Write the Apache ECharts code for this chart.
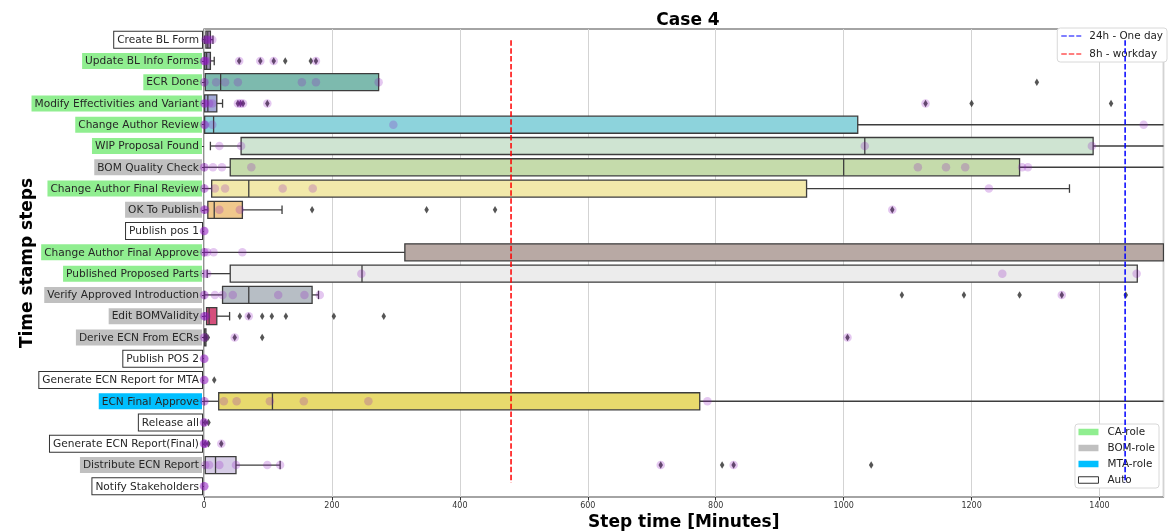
<!DOCTYPE html>
<html>
<head>
<meta charset="utf-8">
<script src="https://cdn.jsdelivr.net/npm/echarts@6/dist/echarts.min.js"></script>
<style>
  html, body { margin: 0; padding: 0; background: #fff; }
  #chart { width: 1169px; height: 532px; }
</style>
</head>
<body>
<div id="chart"></div>
<script>
// Process steps, top to bottom
const steps = [
  'Create BL Form', 'Update BL Info Forms', 'ECR Done', 'Modify Effectivities and Variant',
  'Change Author Review', 'WIP Proposal Found', 'BOM Quality Check', 'Change Author Final Review',
  'OK To Publish', 'Publish pos 1', 'Change Author Final Approve', 'Published Proposed Parts',
  'Verify Approved Introduction', 'Edit BOMValidity', 'Derive ECN From ECRs', 'Publish POS 2',
  'Generate ECN Report for MTA', 'ECN Final Approve', 'Release all', 'Generate ECN Report(Final)',
  'Distribute ECN Report', 'Notify Stakeholders'
];

// Who performs each step
const roles = [
  'auto', 'ca', 'ca', 'ca', 'ca', 'ca', 'bom', 'ca', 'bom', 'auto', 'ca', 'ca',
  'bom', 'bom', 'bom', 'auto', 'auto', 'mta', 'auto', 'auto', 'bom', 'auto'
];

// Box fill per step
const boxColors = [
  '#b48cc8', '#9a8fb5', '#7dbaae', '#a3a9d6', '#8dd3dc', '#cfe4d2', '#c5dbab', '#f2e9aa',
  '#f0c88c', '#cccccc', '#b8a9a4', '#ececec', '#b7bec5', '#d5507c', '#b0b0b0', '#cccccc',
  '#cccccc', '#e8da6d', '#cccccc', '#cccccc', '#d6cce6', '#cccccc'
];

// Five-number summaries in minutes: [lower whisker, Q1, median, Q3, upper whisker]
const boxStats = [
  [1, 3, 6, 10, 14],
  [0, 1, 4, 10, 16],
  [0, 2, 26, 273, 273],
  [0, 1, 6, 20, 29],
  [0, 1, 15, 1022, 1800],
  [10, 58, 1033, 1390, 1800],
  [0, 41, 1000, 1275, 1800],
  [0, 12, 70, 942, 1353],
  [0, 6, 16, 60, 122],
  null,
  [0, 314, 1560, 1800, 2000],
  [5, 41, 247, 1459, 1459],
  [1, 29, 70, 169, 179],
  [0, 4, 8, 20, 40],
  [0, 0, 1, 3, 4],
  null,
  null,
  [0, 23, 107, 775, 1800],
  null,
  null,
  [2, 2, 18, 50, 119],
  null
];

// Outlier step times (minutes)
const outliers = [
  [],
  [55, 88, 109, 127, 167, 175],
  [1302],
  [53, 57, 61, 99, 1128, 1200, 1418],
  [], [], [], [],
  [169, 348, 455, 1076],
  [], [], [],
  [1091, 1188, 1275, 1341, 1441],
  [56, 70, 91, 106, 128, 203, 281],
  [2, 6, 48, 91, 1006],
  [],
  [16],
  [],
  [2, 7],
  [2, 7, 27],
  [714, 810, 828, 1043],
  []
];

// Individual observations (minutes)
const observations = [
  [2, 4, 6, 9, 13],
  [0, 0, 1, 2, 5, 55, 88, 109, 175],
  [0, 1, 19, 33, 53, 153, 175, 273],
  [0, 1, 2, 8, 13, 53, 57, 61, 99, 1128],
  [0, 1, 2, 13, 296, 1469],
  [24, 58, 1033, 1388],
  [0, 1, 14, 28, 74, 1116, 1160, 1190, 1279, 1288],
  [0, 1, 17, 33, 123, 170, 1227],
  [0, 1, 2, 24, 56, 1076],
  [0, 0, 1],
  [0, 1, 5, 15, 60],
  [0, 5, 246, 1248, 1458],
  [0, 1, 17, 29, 45, 116, 157, 181, 1341],
  [0, 1, 2, 4, 70],
  [0, 1, 48, 1006],
  [0, 0, 1],
  [0, 0, 1],
  [0, 1, 31, 51, 103, 156, 257, 787],
  [0, 0, 1],
  [0, 0, 1, 2, 27],
  [2, 8, 24, 50, 99, 119, 714, 828],
  [0, 0, 1]
];

// Reference durations (minutes)
const oneDay = 1440;
const workday = 480;

// Axis range
const xMax = 1500;
const xStep = 200;

const FONT = 'DejaVu Sans';
const DAY_COLOR = '#0000ff';
const WORKDAY_COLOR = '#ff0000';

const roleStyle = {
  ca:   { backgroundColor: '#90ee90' },
  bom:  { backgroundColor: '#c0c0c0' },
  mta:  { backgroundColor: '#00bfff' },
  auto: { backgroundColor: '#ffffff', borderColor: '#333', borderWidth: 1 }
};
const rich = {};
Object.keys(roleStyle).forEach(k => {
  rich[k] = Object.assign({
    fontFamily: FONT, fontSize: 10.6, color: '#262626',
    lineHeight: 13, padding: [3, 3, 2, 3]
  }, roleStyle[k]);
});

const boxData = [];
boxStats.forEach((s, i) => { if (s) boxData.push([i].concat(s)); });
const obsData = [];
observations.forEach((arr, i) => arr.forEach(v => obsData.push([v, i])));
const outData = [];
outliers.forEach((arr, i) => arr.forEach(v => outData.push([v, i])));

function renderBox(params, api) {
  const row = api.value(0);
  const cs = params.coordSys;
  const left = cs.x, right = cs.x + cs.width;
  const px = v => Math.min(Math.max(api.coord([v, row])[0], left), right);
  const yc = api.coord([0, row])[1];
  const band = api.size([0, 1])[1];
  const h = band * 0.8;
  const lo = px(api.value(1)), q1 = px(api.value(2)), med = px(api.value(3)),
        q3 = px(api.value(4)), hi = px(api.value(5));
  const stroke = { stroke: '#3d3d3d', lineWidth: 1.3, fill: null };
  const ch = [];
  ch.push({ type: 'line', shape: { x1: lo, y1: yc, x2: q1, y2: yc }, style: stroke });
  ch.push({ type: 'line', shape: { x1: q3, y1: yc, x2: hi, y2: yc }, style: stroke });
  if (lo < right) ch.push({ type: 'line', shape: { x1: lo, y1: yc - h / 4, x2: lo, y2: yc + h / 4 }, style: stroke });
  if (hi < right) ch.push({ type: 'line', shape: { x1: hi, y1: yc - h / 4, x2: hi, y2: yc + h / 4 }, style: stroke });
  ch.push({ type: 'rect', shape: { x: q1, y: yc - h / 2, width: Math.max(q3 - q1, 0.5), height: h },
            style: { fill: boxColors[row], stroke: '#3d3d3d', lineWidth: 1.3 } });
  if (med < right) ch.push({ type: 'line', shape: { x1: med, y1: yc - h / 2, x2: med, y2: yc + h / 2 }, style: stroke });
  return { type: 'group', children: ch };
}

function vline(color) {
  return function (params, api) {
    const cs = params.coordSys;
    const x = api.coord([api.value(0), 0])[0];
    return {
      type: 'line',
      shape: { x1: x, y1: cs.y + cs.height * (1 - 0.976), x2: x, y2: cs.y + cs.height * (1 - 0.03) },
      style: { stroke: color, lineWidth: 1.5, lineDash: [5.5, 2.4] }
    };
  };
}

const dashIcon = 'path://M0,0H5.5V1H0Z M7.5,0H13V1H7.5Z M15,0H20V1H15Z';

const chart = echarts.init(document.getElementById('chart'), null, { renderer: 'canvas' });
chart.setOption({
  animation: false,
  textStyle: { fontFamily: FONT },
  title: {
    text: 'Case 4', left: 683, top: 7, textAlign: 'center',
    textStyle: { fontFamily: FONT, fontSize: 17, fontWeight: 'bold', color: '#000' }
  },
  grid: {
    left: 204, right: 5.5, top: 29, bottom: 35,
    containLabel: false, outerBoundsMode: 'none',
    show: true, borderColor: '#4a4a4a', borderWidth: 1.2, backgroundColor: 'transparent'
  },
  legend: [
    {
      orient: 'vertical', right: 2, top: 28,
      data: [
        { name: '24h - One day', itemStyle: { color: DAY_COLOR, borderColor: DAY_COLOR, borderWidth: 0 } },
        { name: '8h - workday', itemStyle: { color: WORKDAY_COLOR, borderColor: WORKDAY_COLOR, borderWidth: 0 } }
      ],
      icon: dashIcon, itemWidth: 20, itemHeight: 2, itemGap: 8,
      backgroundColor: '#fff', borderColor: '#d8d8d8', borderWidth: 1, borderRadius: 3,
      padding: [3, 4, 3, 4],
      textStyle: { fontFamily: FONT, fontSize: 10.4, color: '#222', padding: [0, 0, 0, 3] },
      selectedMode: false
    },
    {
      orient: 'vertical', right: 10, top: 424,
      data: [
        { name: 'CA-role' }, { name: 'BOM-role' }, { name: 'MTA-role' },
        { name: 'Auto', itemStyle: { color: '#fff', borderColor: '#333', borderWidth: 1 } }
      ],
      icon: 'rect', itemWidth: 20, itemHeight: 6.5, itemGap: 6,
      backgroundColor: '#fff', borderColor: '#d8d8d8', borderWidth: 1, borderRadius: 3,
      padding: [3, 4, 3, 3],
      textStyle: { fontFamily: FONT, fontSize: 10.4, color: '#222', padding: [0, 0, 0, 4] },
      selectedMode: false
    }
  ],
  xAxis: {
    type: 'value', min: 0, max: xMax, interval: xStep,
    name: 'Step time [Minutes]', nameLocation: 'middle', nameGap: 17, nameMoveOverlap: false,
    nameTextStyle: { fontFamily: FONT, fontSize: 17, fontWeight: 'bold', color: '#000' },
    axisLine: { show: false },
    axisTick: { show: true, length: 3.5, lineStyle: { color: '#333' } },
    axisLabel: { fontFamily: FONT, fontSize: 8, color: '#333', margin: 5, showMaxLabel: false,
                 formatter: v => String(v) },
    splitLine: { show: true, lineStyle: { color: '#d3d3d3', width: 1 } }
  },
  yAxis: {
    type: 'category', data: steps, inverse: true,
    name: 'Time stamp steps', nameLocation: 'middle', nameGap: 168, nameMoveOverlap: false,
    nameTextStyle: { fontFamily: FONT, fontSize: 17, fontWeight: 'bold', color: '#000' },
    axisLine: { show: false },
    axisTick: { show: true, alignWithLabel: true, length: 3, lineStyle: { color: '#333' } },
    axisLabel: {
      margin: 2, rich: rich,
      formatter: (v, i) => '{' + roles[i] + '|' + v + '}'
    },
    splitLine: { show: false }
  },
  series: [
    { type: 'custom', name: 'boxes', data: boxData, encode: { y: 0, x: [1, 2, 3, 4, 5] },
      renderItem: renderBox, clip: true, z: 2 },
    { type: 'scatter', name: 'outliers', data: outData, symbol: 'diamond', symbolSize: [4.5, 7.5],
      itemStyle: { color: '#2b2b2b' }, z: 3 },
    { type: 'scatter', name: 'observations', data: obsData, symbol: 'circle', symbolSize: 8.5,
      itemStyle: { color: 'rgba(145, 25, 195, 0.3)' }, z: 4 },
    { type: 'custom', name: '8h - workday', data: [[workday, 0]], encode: { x: 0, y: 1 },
      renderItem: vline(WORKDAY_COLOR),
      itemStyle: { color: WORKDAY_COLOR, borderColor: WORKDAY_COLOR, borderWidth: 0 }, z: 5 },
    { type: 'custom', name: '24h - One day', data: [[oneDay, 0]], encode: { x: 0, y: 1 },
      renderItem: vline(DAY_COLOR),
      itemStyle: { color: DAY_COLOR, borderColor: DAY_COLOR, borderWidth: 0 }, z: 5 },
    { type: 'bar', name: 'CA-role', data: [], itemStyle: { color: '#90ee90' } },
    { type: 'bar', name: 'BOM-role', data: [], itemStyle: { color: '#c0c0c0' } },
    { type: 'bar', name: 'MTA-role', data: [], itemStyle: { color: '#00bfff' } },
    { type: 'bar', name: 'Auto', data: [], itemStyle: { color: '#ffffff', borderColor: '#333', borderWidth: 1 } }
  ]
});
</script>
</body>
</html>
